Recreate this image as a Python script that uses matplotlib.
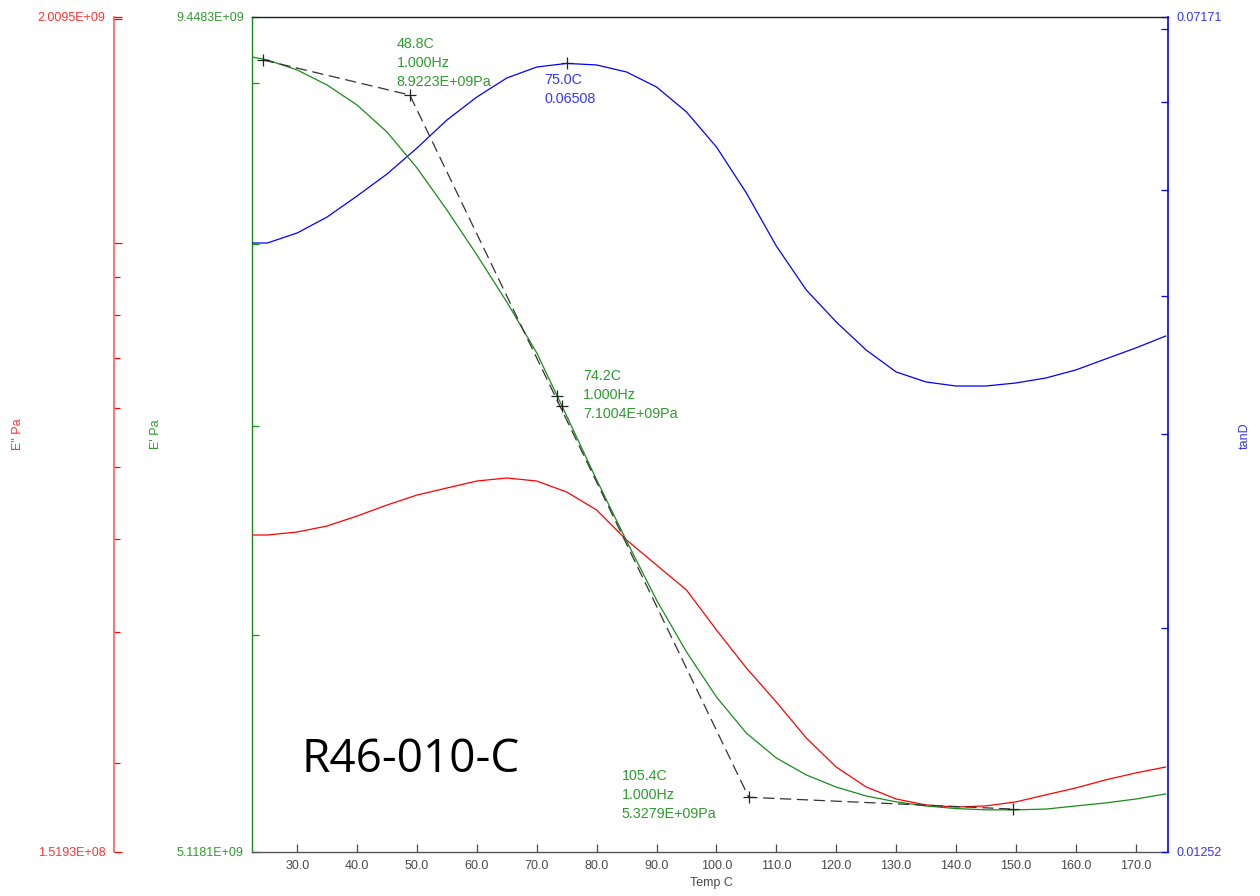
import matplotlib
matplotlib.use("Agg")
import matplotlib.pyplot as plt
from matplotlib.ticker import FixedLocator, FixedFormatter, NullLocator

plt.rcParams['font.family'] = ['Liberation Sans', 'DejaVu Sans']

# DMA temperature sweep, 1 Hz
temp_c = [22.5, 25, 30, 35, 40, 45, 50, 55, 60, 65, 70, 75, 80, 85, 90, 95,
          100, 105, 110, 115, 120, 125, 130, 135, 140, 145, 150, 155, 160,
          165, 170, 175]

storage_mod = [9.175e9, 9.155e9, 9.088e9, 8.988e9, 8.857e9, 8.683e9, 8.457e9,
               8.200e9, 7.934e9, 7.664e9, 7.383e9, 7.049e9, 6.726e9, 6.431e9,
               6.158e9, 5.928e9, 5.735e9, 5.585e9, 5.484e9, 5.416e9, 5.368e9,
               5.333e9, 5.310e9, 5.294e9, 5.284e9, 5.279e9, 5.279e9, 5.282e9,
               5.294e9, 5.306e9, 5.321e9, 5.341e9]

loss_mod = [0.4049e9, 0.4049e9, 0.4087e9, 0.4164e9, 0.4294e9, 0.4443e9,
            0.4582e9, 0.4683e9, 0.4785e9, 0.4830e9, 0.4785e9, 0.4625e9,
            0.4375e9, 0.3987e9, 0.3690e9, 0.3416e9, 0.3019e9, 0.2684e9,
            0.2416e9, 0.2162e9, 0.1976e9, 0.1858e9, 0.1790e9, 0.1757e9,
            0.1746e9, 0.1752e9, 0.1774e9, 0.1813e9, 0.1852e9, 0.1899e9,
            0.1940e9, 0.1976e9]

tan_d = [0.04471, 0.04471, 0.04566, 0.04721, 0.04933, 0.05165, 0.05453,
         0.05782, 0.06067, 0.06313, 0.06459, 0.06508, 0.06487, 0.06392,
         0.06195, 0.05880, 0.05465, 0.04964, 0.04443, 0.04053, 0.03791,
         0.03575, 0.03415, 0.03344, 0.03316, 0.03316, 0.03337, 0.03372,
         0.03429, 0.03509, 0.03590, 0.03681]

# tangent construction on E'
onset_temp = [24.3, 48.8, 105.4, 149.5]
onset_mod = [9.155e9, 8.9223e9, 5.3279e9, 5.282e9]
inflect_temp = [73.3, 74.2]
inflect_mod = [7.153e9, 7.1004e9]
peak_temp = 75.0
peak_tan = 0.06508

temp_lim = (22.45, 175.4)
storage_lim = (5.1181e9, 9.4483e9)
loss_lim = (1.5193e8, 2.0095e9)
tan_lim = (0.01252, 0.07171)

x_ticks = [30, 40, 50, 60, 70, 80, 90, 100, 110, 120, 130, 140, 150, 160, 170]

RED, GREEN, BLUE = '#ff0000', '#1a8a1a', '#0000ff'
RED_T, GREEN_T, BLUE_T = '#ff3333', '#2f9a2f', '#3434ff'
GRAY = '#4a4a4a'
TICK_FS = 9
PX = 72 / 100  # points per pixel at 100 dpi

fig = plt.figure(figsize=(12.6, 8.96), dpi=100)
ax = fig.add_axes([0.2, 0.04911, 0.72698, 0.93192])
ax_red = ax.twinx()
ax_blue = ax.twinx()

# --- x axis ---
ax.set_xlim(*temp_lim)
ax.xaxis.set_major_locator(FixedLocator(x_ticks))
ax.xaxis.set_major_formatter(FixedFormatter([f"{t:.1f}" for t in x_ticks]))
ax.tick_params(axis='x', direction='in', length=5.5, width=0.9, color=GRAY,
               labelcolor=GRAY, labelsize=TICK_FS, pad=6)

# --- E' (green, left spine) ---
ax.set_yscale('log')
ax.set_ylim(*storage_lim)
g_ticks = [storage_lim[0], 6e9, 7e9, 8e9, 9e9, storage_lim[1]]
ax.yaxis.set_major_locator(FixedLocator(g_ticks))
ax.yaxis.set_major_formatter(FixedFormatter(
    [f"{storage_lim[0]:.4E}", '', '', '', '', f"{storage_lim[1]:.4E}"]))
ax.yaxis.set_minor_locator(NullLocator())
ax.tick_params(axis='y', direction='in', length=5, width=0.9, color=GREEN,
               labelcolor=GREEN_T, labelsize=TICK_FS, pad=6)

# --- E'' (red, offset left spine) ---
ax_red.set_yscale('log')
ax_red.set_ylim(*loss_lim)
ax_red.yaxis.set_ticks_position('left')
ax_red.yaxis.set_label_position('left')
ax_red.spines['left'].set_position(('outward', 138 * PX))
r_major = [loss_lim[0], 1e9, 2e9, loss_lim[1]]
ax_red.yaxis.set_major_locator(FixedLocator(r_major))
ax_red.yaxis.set_major_formatter(FixedFormatter(
    [f"{loss_lim[0]:.4E}", '', '', f"{loss_lim[1]:.4E}"]))
ax_red.yaxis.set_minor_locator(FixedLocator([2e8, 3e8, 4e8, 5e8, 6e8, 7e8, 8e8, 9e8]))
ax_red.yaxis.set_minor_formatter(FixedFormatter([''] * 8))
ax_red.tick_params(axis='y', which='major', direction='in', length=6, width=0.9,
                   color=RED, labelcolor=RED_T, labelsize=TICK_FS, pad=6)
ax_red.tick_params(axis='y', which='minor', direction='in', length=4.3,
                   width=0.9, color=RED)

# --- tanD (blue, right spine) ---
ax_blue.set_yscale('log')
ax_blue.set_ylim(*tan_lim)
b_ticks = [tan_lim[0], 0.02, 0.03, 0.04, 0.05, 0.06, 0.07, tan_lim[1]]
ax_blue.yaxis.set_major_locator(FixedLocator(b_ticks))
ax_blue.yaxis.set_major_formatter(FixedFormatter(
    [f"{tan_lim[0]:.5f}", '', '', '', '', '', '', f"{tan_lim[1]:.5f}"]))
ax_blue.yaxis.set_minor_locator(NullLocator())
ax_blue.tick_params(axis='y', direction='in', length=5, width=0.9, color=BLUE,
                    labelcolor=BLUE_T, labelsize=TICK_FS, pad=6)

# spines
for a in (ax, ax_red, ax_blue):
    for s in a.spines.values():
        s.set_visible(False)
ax.spines['left'].set_visible(True)
ax.spines['left'].set_color(GREEN)
ax.spines['left'].set_linewidth(1.0)
ax.spines['top'].set_visible(True)
ax.spines['top'].set_color('#222222')
ax.spines['top'].set_linewidth(1.0)
ax.spines['bottom'].set_visible(True)
ax.spines['bottom'].set_color('#555555')
ax.spines['bottom'].set_linewidth(1.0)
ax_red.spines['left'].set_visible(True)
ax_red.spines['left'].set_color('#ff6a6a')
ax_red.spines['left'].set_linewidth(1.3)
ax_blue.spines['right'].set_visible(True)
ax_blue.spines['right'].set_color(BLUE)
ax_blue.spines['right'].set_linewidth(1.2)

# curves
ax_red.plot(temp_c, loss_mod, color=RED, lw=0.9)
ax_blue.plot(temp_c, tan_d, color=BLUE, lw=0.9)
ax_blue.set_zorder(ax.get_zorder() + 2)
ax_red.set_zorder(ax.get_zorder() + 1)
ax_blue.patch.set_visible(False)
ax_red.patch.set_visible(False)

# E' curve and tangents are drawn on the top-most axes so they stay visible
top = ax_blue
tr = ax.transData
top.plot(temp_c, storage_mod, color=GREEN, lw=0.9, transform=tr)
top.plot(onset_temp, onset_mod, color='#333333', lw=0.9,
         ls=(0, (9, 4.5)), transform=tr)
top.plot(onset_temp + inflect_temp, onset_mod + inflect_mod, ls='none',
         marker='+', ms=8, mew=0.9, color='#222222', transform=tr)
top.plot([peak_temp], [peak_tan], ls='none', marker='+', ms=8, mew=0.9,
         color='#222222')

txt_kw = dict(textcoords='offset pixels', ha='left', va='top', fontsize=10.3,
              linespacing=1.45)
top.annotate(f"{onset_temp[1]:.1f}C\n1.000Hz\n{onset_mod[1]:.4E}Pa",
             xy=(onset_temp[1], onset_mod[1]), xycoords=tr, xytext=(-13, 58),
             color=GREEN_T, **txt_kw)
top.annotate(f"{inflect_temp[1]:.1f}C\n1.000Hz\n{inflect_mod[1]:.4E}Pa",
             xy=(inflect_temp[1], inflect_mod[1]), xycoords=tr,
             xytext=(21, 37), color=GREEN_T, **txt_kw)
top.annotate(f"{onset_temp[2]:.1f}C\n1.000Hz\n{onset_mod[2]:.4E}Pa",
             xy=(onset_temp[2], onset_mod[2]), xycoords=tr,
             xytext=(-127, 28), color=GREEN_T, **txt_kw)
top.annotate(f"{peak_temp:.1f}C\n{peak_tan:.5f}", xy=(peak_temp, peak_tan),
             xytext=(-22, -10), color=BLUE_T, **txt_kw)

# axis titles
fig.text(18 / 1260, 1 - 434 / 896, 'E" Pa', rotation=90, ha='center',
         va='center', color=RED_T, fontsize=9)
fig.text(156 / 1260, 1 - 434 / 896, "E' Pa", rotation=90, ha='center',
         va='center', color=GREEN_T, fontsize=9)
fig.text(1245 / 1260, 1 - 436 / 896, 'tanD', rotation=90, ha='center',
         va='center', color=BLUE_T, fontsize=9)
fig.text(711 / 1260, 1 - 883 / 896, 'Temp C', ha='center', va='center',
         color=GRAY, fontsize=9)

fig.text(302 / 1260, 1 - 772 / 896, 'R46-010-C', ha='left', va='baseline',
         fontsize=33, family=['Open Sans', 'DejaVu Sans'], color='black')

fig.savefig('out.png', dpi=100)
